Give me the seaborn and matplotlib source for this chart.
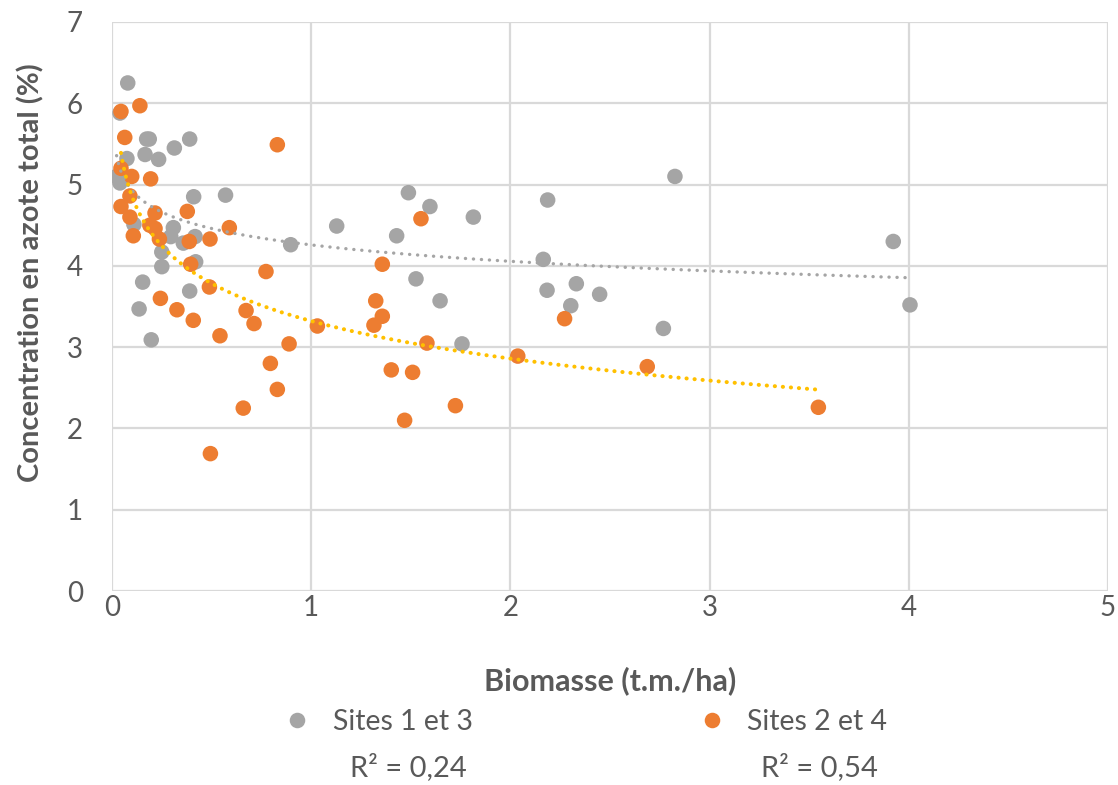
import numpy as np
import pandas as pd
import matplotlib
matplotlib.use("Agg")
import matplotlib.pyplot as plt
import seaborn as sns

# ---- data ----
site13_x = [0.079, 0.040, 0.174, 0.187, 0.39, 0.313, 0.075, 0.166, 0.234, 0.023,
            0.040, 0.41, 0.57, 0.11, 0.308, 0.295, 0.358, 0.417, 0.25, 0.42,
            0.25, 0.154, 0.39, 0.136, 0.197, 0.897, 1.128, 1.488, 1.596, 1.814,
            1.429, 1.526, 1.647, 1.757, 2.187, 2.826, 2.165, 2.184, 2.331, 2.303,
            2.448, 2.768, 3.922, 4.006]
site13_y = [6.25, 5.88, 5.56, 5.56, 5.56, 5.45, 5.32, 5.37, 5.31, 5.10,
            5.02, 4.85, 4.87, 4.51, 4.47, 4.36, 4.28, 4.36, 4.17, 4.05,
            3.99, 3.80, 3.69, 3.47, 3.09, 4.26, 4.49, 4.90, 4.73, 4.60,
            4.37, 3.84, 3.57, 3.04, 4.81, 5.10, 4.08, 3.70, 3.78, 3.51,
            3.65, 3.23, 4.30, 3.52]

site24_x = [0.14, 0.045, 0.064, 0.83, 0.045, 0.099, 0.194, 0.09, 0.045, 0.09,
            0.216, 0.378, 0.19, 0.216, 0.107, 0.238, 0.388, 0.492, 0.589, 0.395,
            0.773, 0.489, 0.243, 0.326, 0.408, 0.673, 0.713, 0.542, 0.889, 1.031,
            0.795, 0.83, 0.659, 0.494, 1.551, 1.357, 1.324, 1.357, 1.315, 1.581,
            1.402, 1.509, 1.724, 1.469, 2.037, 2.272, 2.687, 3.546]
site24_y = [5.97, 5.90, 5.58, 5.49, 5.20, 5.10, 5.07, 4.86, 4.73, 4.60,
            4.65, 4.67, 4.50, 4.46, 4.37, 4.33, 4.30, 4.33, 4.47, 4.02,
            3.93, 3.74, 3.60, 3.46, 3.33, 3.45, 3.29, 3.14, 3.04, 3.26,
            2.80, 2.48, 2.25, 1.69, 4.58, 4.02, 3.57, 3.38, 3.27, 3.05,
            2.72, 2.69, 2.28, 2.10, 2.89, 3.35, 2.76, 2.26]

series_names = ["Sites 1 et 3", "Sites 2 et 4"]
r2_labels = ["R² = 0,24", "R² = 0,54"]
x_ticks = [0, 1, 2, 3, 4, 5]
y_ticks = [0, 1, 2, 3, 4, 5, 6, 7]
x_title = "Biomasse (t.m./ha)"
y_title = "Concentration en azote total (%)"

# ---- style ----
sns.set_theme(style="white")
plt.rcParams["font.family"] = ["Lato", "DejaVu Sans"]
text_col = "#595959"
grid_col = "#D9D9D9"
colors = {"Sites 1 et 3": "#A5A5A5", "Sites 2 et 4": "#ED7D31"}
trend_colors = {"Sites 1 et 3": "#A5A5A5", "Sites 2 et 4": "#FFC000"}

df = pd.DataFrame({
    "x": site13_x + site24_x,
    "y": site13_y + site24_y,
    "site": [series_names[0]] * len(site13_x) + [series_names[1]] * len(site24_x),
})

W, H = 1118, 785
fig = plt.figure(figsize=(W / 100, H / 100), dpi=100)
ax = fig.add_axes([112 / W, 1 - 591 / H, (1108 - 112) / W, (591 - 22) / H])

ax.set_axisbelow(True)
ax.grid(True, color=grid_col, linewidth=1.6)
for s in ax.spines.values():
    s.set_visible(False)

sns.scatterplot(data=df, x="x", y="y", hue="site", palette=colors, s=125,
                edgecolor="none", linewidth=0, alpha=1, ax=ax, zorder=3, legend=True)

# logarithmic trendlines (fitted on the data)
for name, xs, ys in [(series_names[0], site13_x, site13_y), (series_names[1], site24_x, site24_y)]:
    xs = np.asarray(xs)
    ys = np.asarray(ys)
    b, a = np.polyfit(np.log(xs), ys, 1)
    xx = np.linspace(xs.min(), xs.max(), 400)
    if name == series_names[0]:
        lw, pat = 2.4, (0, (0.05, 2.35))
    else:
        lw, pat = 2.9, (0, (0.05, 1.95))
    ax.plot(xx, a + b * np.log(xx), color=trend_colors[name], linewidth=lw,
            linestyle=pat, dash_capstyle="round", zorder=4)

ax.set_xlim(0, 5)
ax.set_ylim(0, 7)
ax.set_xticks(x_ticks)
ax.set_yticks(y_ticks)
ax.tick_params(axis="both", length=0, labelsize=20, labelcolor=text_col)
ax.tick_params(axis="y", pad=21)
ax.tick_params(axis="x", pad=3)
ax.set_xlabel(x_title, fontsize=22, fontweight="bold", color=text_col)
ax.set_ylabel(y_title, fontsize=21, fontweight="bold", color=text_col)
ax.xaxis.set_label_coords(0.5, (591 - 666) / 569)
ax.yaxis.set_label_coords((44 - 112) / 996, (591 - 273) / 569)

handles, labels = ax.get_legend_handles_labels()
leg = ax.legend(handles, labels, loc="center", ncol=2, frameon=False,
                fontsize=20.5, labelcolor=text_col, handlelength=1.0, handletextpad=0.75,
                columnspacing=7.9, markerscale=1.0)
leg.set_bbox_to_anchor((585 / W, 1 - 722 / H), transform=fig.transFigure)

fig.text(408 / W, 1 - 767 / H, r2_labels[0], ha="center", va="center", fontsize=21, color=text_col)
fig.text(819 / W, 1 - 767 / H, r2_labels[1], ha="center", va="center", fontsize=21, color=text_col)

fig.savefig("out.png", dpi=100)
